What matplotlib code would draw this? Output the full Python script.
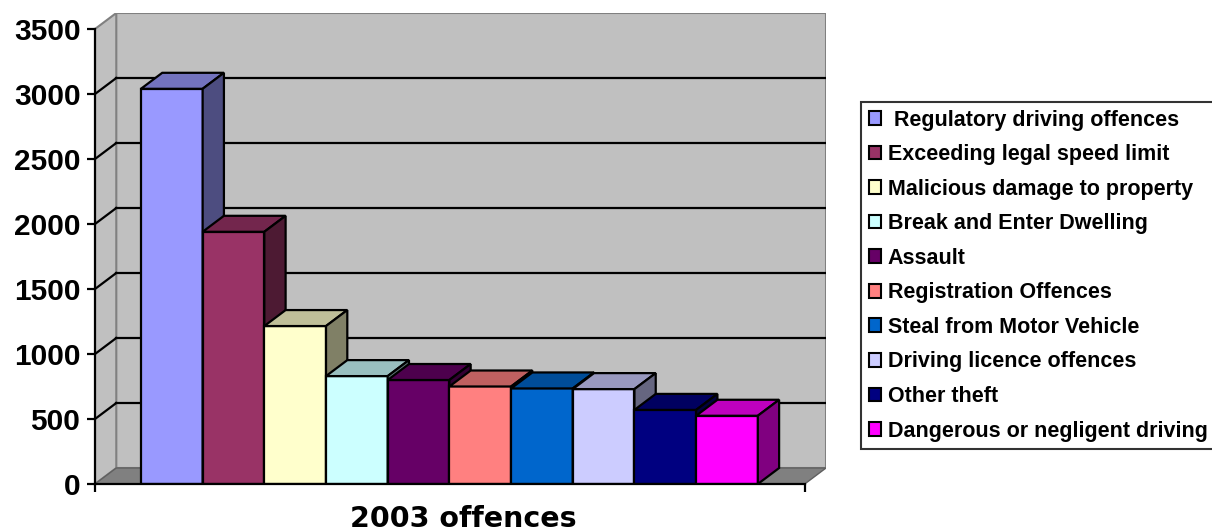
import matplotlib.pyplot as plt
from matplotlib.patches import Patch

# data
categories = [' Regulatory driving offences', 'Exceeding legal speed limit',
              'Malicious damage to property', 'Break and Enter Dwelling',
              'Assault', 'Registration Offences', 'Steal from Motor Vehicle',
              'Driving licence offences', 'Other theft',
              'Dangerous or negligent driving']
values = [3040, 1940, 1215, 830, 800, 750, 735, 730, 570, 525]
colors = ['#9999FF', '#993366', '#FFFFCC', '#CCFFFF', '#660066',
          '#FF8080', '#0066CC', '#CCCCFF', '#000080', '#FF00FF']
yticks = [0, 500, 1000, 1500, 2000, 2500, 3000, 3500]
xlabel = '2003 offences'

plt.rcParams['font.family'] = ['Liberation Sans', 'DejaVu Sans']
plt.rcParams['font.weight'] = 'bold'

W, H = 1212, 531
fig = plt.figure(figsize=(W / 100, H / 100), dpi=100)
ax = fig.add_axes([95 / W, (H - 484) / H, (826 - 95) / W, (484 - 13) / H])

# 3D depth offsets (data units)
dx, dy = 0.345, 123
xl, xr = -1.245, 10.26
ymax = 3500
ax.set_xlim(xl, xr + dx)
ax.set_ylim(0, ymax + dy)
ax.set_facecolor('none')


def shade(c, f):
    r, g, b = [int(c[i:i + 2], 16) / 255 for i in (1, 3, 5)]
    return (r * f, g * f, b * f)


wall = '#C0C0C0'
edge = '#808080'
# back wall
ax.fill([xl + dx, xr + dx, xr + dx, xl + dx], [dy, dy, ymax + dy, ymax + dy],
        facecolor=wall, edgecolor=edge, lw=1.5, zorder=0)
# side wall
ax.fill([xl, xl + dx, xl + dx, xl], [0, dy, ymax + dy, ymax],
        facecolor=wall, edgecolor=edge, lw=1.5, zorder=0)
# floor
ax.fill([xl, xr, xr + dx, xl + dx], [0, 0, dy, dy],
        facecolor='#808080', edgecolor='#606060', lw=1, zorder=0.5)

# gridlines on walls
for v in yticks[1:-1]:
    ax.plot([xl + dx, xr + dx], [v + dy, v + dy], color='black', lw=1.6, zorder=1)
    ax.plot([xl, xl + dx], [v, v + dy], color='black', lw=1.6, zorder=1)

# bars
x = list(range(len(values)))
bars = ax.bar(x, values, width=1, color=colors, edgecolor='black', lw=1.6)
for i, (b, v, c) in enumerate(zip(bars, values, colors)):
    z = 3 + i * 0.1
    b.set_zorder(z)
    left, right = i - 0.5, i + 0.5
    ax.fill([left, right, right + dx, left + dx], [v, v, v + dy, v + dy],
            facecolor=shade(c, 0.75), edgecolor='black', lw=1.6, zorder=z)
    ax.fill([right, right + dx, right + dx, right], [0, dy, v + dy, v],
            facecolor=shade(c, 0.5), edgecolor='black', lw=1.6, zorder=z)

# axes
for s in ['top', 'right']:
    ax.spines[s].set_visible(False)
ax.spines['left'].set_bounds(0, ymax)
ax.spines['bottom'].set_bounds(xl, xr)
for s in ['left', 'bottom']:
    ax.spines[s].set_linewidth(1.6)
    ax.spines[s].set_zorder(5)
ax.set_yticks(yticks)
ax.set_yticklabels([str(t) for t in yticks])
ax.set_xticks([xl, xr])
ax.set_xticklabels([])
ax.tick_params(axis='both', length=5.5, width=1.6, color='black')
ax.tick_params(axis='y', labelsize=21.5, pad=5)
fig.text(463 / W, 1 - 519 / H, xlabel, fontsize=20.5, fontweight='bold',
         family='DejaVu Sans', ha='center', va='center')

handles = [Patch(facecolor=c, edgecolor='black', lw=1.5) for c in colors]
leg = fig.legend(handles, categories, loc='upper left',
                 bbox_to_anchor=(861 / W, 1 - 102 / H), borderaxespad=0,
                 fontsize=15.5, frameon=True, fancybox=False,
                 edgecolor='black', labelspacing=0.63, handlelength=0.6,
                 handleheight=0.6, handletextpad=0.3, borderpad=0.35)
leg.get_frame().set_linewidth(1.5)

fig.savefig('out.png', dpi=100)
